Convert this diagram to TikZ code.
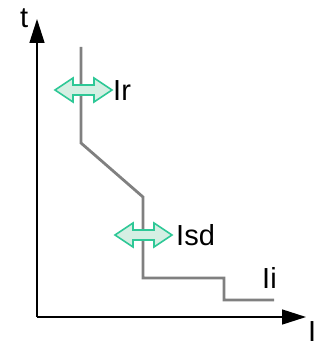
\documentclass[tikz,border=0pt]{standalone}
\usepackage{fontspec}
\setmainfont{Liberation Sans}
\usetikzlibrary{arrows.meta,calc}
\definecolor{curvegray}{HTML}{808080}
\definecolor{arredge}{HTML}{2FC897}
\definecolor{arrfill}{HTML}{D5EFE3}
\tikzset{
  axis/.style={line width=1.5pt, black, -{Triangle[length=24pt,width=15pt]}},
  curve/.style={line width=2.8pt, curvegray, line join=miter},
  dblarrow/.style={draw=arredge, fill=arrfill, line width=1.6pt, line join=miter},
  lbl/.style={inner sep=0pt, font=\fontsize{29}{29}\selectfont, anchor=base west}
}
\begin{document}
\begin{tikzpicture}[x=1pt,y=-1pt]
\useasboundingbox (0,0) rectangle (320,345);
% axes
\coordinate (O) at (37,317);
\coordinate (T) at (37,19);
\coordinate (X) at (306,317);
\draw[axis] (O) -- (T);
\draw[axis] (O) -- (X);
% curve
\coordinate (c0) at (81,47);
\coordinate (c1) at (81,143);
\coordinate (c2) at (143,197);
\coordinate (c3) at (143,278);
\coordinate (c4) at (224,278);
\coordinate (c5) at (224,300);
\coordinate (c6) at (274,300);
\draw[curve] (c0) -- (c1) -- (c2) -- (c3) -- (c4) -- (c5) -- (c6);
% double arrows
\coordinate (ar) at (83.5,90);
\coordinate (as) at (143.5,235);
\foreach \c in {ar,as}{
  \draw[dblarrow] ($(\c)+(-28.5,0)$) -- ++(18,-12) -- ++(0,7) -- ++(21,0) -- ++(0,-7)
    -- ($(\c)+(28.5,0)$) -- ++(-18,12) -- ++(0,-7) -- ++(-21,0) -- ++(0,7) -- cycle;
}
% labels
\node[lbl] (t) at (20,28) {t};
\node[lbl] (Ir) at (113,100) {Ir};
\node[lbl] (Isd) at (176,245) {Isd};
\node[lbl] (Ii) at (262,288) {Ii};
\node[lbl] (I) at (308,341) {I};
\end{tikzpicture}
\end{document}
